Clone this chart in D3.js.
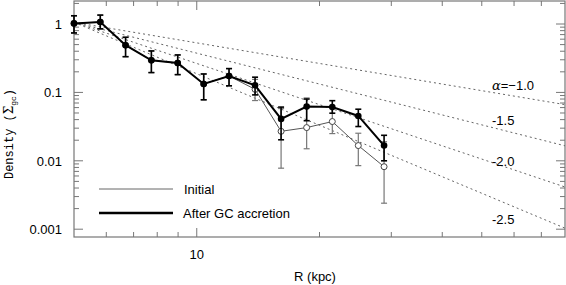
<!DOCTYPE html>
<meta charset="utf-8">
<style>
    body { margin: 0; background: #fff; }
    text { font-family: "Liberation Sans", Arial, sans-serif; font-size: 13px; fill: #000; }
    .frame { fill: none; stroke: #777; stroke-width: 1.2px; }
    .tick { stroke: #777; stroke-width: 1px; }
    .guide { fill: none; stroke: #666; stroke-width: 1px; stroke-dasharray: 2,3; }
</style>
<svg width="566" height="285"></svg>
<script src="https://d3js.org/d3.v7.min.js"></script>
<script>
    // radius (kpc)
    var radius = [5.0, 5.8, 6.69, 7.74, 8.98, 10.4, 12.0, 13.9, 16.1, 18.6, 21.5, 24.9, 28.8];

    // after GC accretion
    var after   = [1.02, 1.07, 0.49, 0.295, 0.269, 0.133, 0.174, 0.127, 0.041, 0.062, 0.061, 0.0453, 0.0167];
    var afterLo = [0.74, 0.85, 0.333, 0.195, 0.182, 0.078, 0.125, 0.092, 0.0203, 0.0386, 0.0497, 0.0317, 0.0100];
    var afterHi = [1.32, 1.35, 0.64, 0.404, 0.353, 0.186, 0.223, 0.167, 0.061, 0.080, 0.0757, 0.0568, 0.0236];

    // initial
    var initial = [1.02, 1.07, 0.49, 0.295, 0.269, 0.133, 0.174, 0.111, 0.027, 0.0306, 0.0375, 0.0167, 0.0082];
    var initLo  = [0.74, 0.85, 0.333, 0.195, 0.182, 0.078, 0.125, 0.076, 0.0078, 0.015, 0.025, 0.0085, 0.0024];
    var initHi  = [1.32, 1.35, 0.64, 0.404, 0.353, 0.186, 0.223, 0.155, 0.058, 0.083, 0.060, 0.0253, 0.019];

    // power-law guides
    var slopes = [-1.0, -1.5, -2.0, -2.5];
    var slopeLabels = ["-1.0", "-1.5", "-2.0", "-2.5"];
    var guideR0 = 5, guideS0 = 1.06;

    var yTicks = [1, 0.1, 0.01, 0.001];
    var yTickLabels = ["1", "0.1", "0.01", "0.001"];

    var pLeft = 74, pRight = 565, pTop = 1, pBottom = 237;

    var svg = d3.select("svg");

    var x = d3.scaleLog().domain([5, 80]).range([pLeft, pRight]);
    var y = d3.scaleLog().domain([0.000769, 2.17]).range([pBottom, pTop]);

    svg.append("clipPath").attr("id", "clip")
        .append("rect").attr("x", pLeft).attr("y", pTop)
        .attr("width", pRight - pLeft).attr("height", pBottom - pTop);

    // ticks
    var xMinor = [6, 7, 8, 9, 20, 30, 40, 50, 60, 70];
    var xMajor = [10];
    var yMinor = [];
    [0.001, 0.01, 0.1, 1].forEach(function (d) {
        for (var k = 2; k <= 9; k++) if (d * k < 2.17) yMinor.push(d * k);
    });

    var ticks = svg.append("g");
    function xTick(v, len) {
        ticks.append("line").attr("class", "tick")
            .attr("x1", x(v)).attr("x2", x(v)).attr("y1", pBottom).attr("y2", pBottom - len);
        ticks.append("line").attr("class", "tick")
            .attr("x1", x(v)).attr("x2", x(v)).attr("y1", pTop).attr("y2", pTop + len);
    }
    function yTick(v, len) {
        ticks.append("line").attr("class", "tick")
            .attr("x1", pLeft).attr("x2", pLeft + len).attr("y1", y(v)).attr("y2", y(v));
        ticks.append("line").attr("class", "tick")
            .attr("x1", pRight).attr("x2", pRight - len).attr("y1", y(v)).attr("y2", y(v));
    }
    xMinor.forEach(function (v) { xTick(v, 5); });
    xMajor.forEach(function (v) { xTick(v, 9); });
    yMinor.forEach(function (v) { yTick(v, 5); });
    yTicks.forEach(function (v) { yTick(v, 9); });

    svg.append("rect").attr("class", "frame")
        .attr("x", pLeft).attr("y", pTop).attr("width", pRight - pLeft).attr("height", pBottom - pTop);

    svg.selectAll(".ylab").data(yTicks).enter().append("text")
        .attr("x", 62).attr("y", function (d) { return y(d) + 5; })
        .attr("text-anchor", "end")
        .text(function (d, i) { return yTickLabels[i]; });

    svg.append("text").attr("x", x(10)).attr("y", 259).attr("text-anchor", "middle").text("10");
    svg.append("text").attr("x", 315).attr("y", 281).attr("text-anchor", "middle").text("R (kpc)");

    var ylab = svg.append("text")
        .attr("transform", "translate(13,134) rotate(-90)")
        .attr("text-anchor", "middle")
        .style("font-family", "'Liberation Mono', 'DejaVu Sans Mono', monospace")
        .style("font-size", "12px");
    ylab.append("tspan").text("Density (");
    ylab.append("tspan").style("font-family", "'DejaVu Serif', serif").text("Σ");
    ylab.append("tspan").attr("dy", 3).style("font-size", "8px").text("gc");
    ylab.append("tspan").attr("dy", -3).text(")");

    // guides
    var plot = svg.append("g").attr("clip-path", "url(#clip)");
    var guideR = [5, 80];
    slopes.forEach(function (a) {
        plot.append("path").attr("class", "guide")
            .attr("d", d3.line()
                .x(function (r) { return x(r); })
                .y(function (r) { return y(guideS0 * Math.pow(r / guideR0, a)); })(guideR));
    });

    var labelY = [90, 125, 166, 224];
    slopes.forEach(function (a, i) {
        var t = svg.append("text").attr("x", 492).attr("y", labelY[i]);
        if (i == 0) {
            t.append("tspan").style("font-family", "'DejaVu Serif', serif").style("font-style", "italic").text("α");
            t.append("tspan").text("=−1.0");
        } else {
            t.text(slopeLabels[i]);
        }
    });

    var pts = d3.range(radius.length);
    var line = function (vals) {
        return d3.line().x(function (i) { return x(radius[i]); }).y(function (i) { return y(vals[i]); })(pts);
    };

    function errorBars(g, lo, hi, color, width) {
        var cap = 3;
        pts.forEach(function (i) {
            var cx = x(radius[i]);
            g.append("line").attr("x1", cx).attr("x2", cx).attr("y1", y(lo[i])).attr("y2", y(hi[i]))
                .attr("stroke", color).attr("stroke-width", width);
            [lo[i], hi[i]].forEach(function (v) {
                g.append("line").attr("x1", cx - cap).attr("x2", cx + cap).attr("y1", y(v)).attr("y2", y(v))
                    .attr("stroke", color).attr("stroke-width", width);
            });
        });
    }

    // initial
    var gi = svg.append("g");
    errorBars(gi, initLo, initHi, "#777", 1.2);
    gi.append("path").attr("d", line(initial)).attr("fill", "none").attr("stroke", "#555").attr("stroke-width", 1);
    gi.selectAll("circle").data(pts).enter().append("circle")
        .attr("cx", function (i) { return x(radius[i]); })
        .attr("cy", function (i) { return y(initial[i]); })
        .attr("r", 3).attr("fill", "#fff").attr("stroke", "#444").attr("stroke-width", 1);

    // after GC accretion
    var ga = svg.append("g");
    errorBars(ga, afterLo, afterHi, "#000", 1.6);
    ga.append("path").attr("d", line(after)).attr("fill", "none").attr("stroke", "#000").attr("stroke-width", 2);
    ga.selectAll("circle").data(pts).enter().append("circle")
        .attr("cx", function (i) { return x(radius[i]); })
        .attr("cy", function (i) { return y(after[i]); })
        .attr("r", 3.3).attr("fill", "#000");

    // legend
    svg.append("line").attr("x1", 99).attr("x2", 173).attr("y1", 189).attr("y2", 189)
        .attr("stroke", "#666").attr("stroke-width", 1);
    svg.append("text").attr("x", 184).attr("y", 194).text("Initial");
    svg.append("line").attr("x1", 99).attr("x2", 173).attr("y1", 213).attr("y2", 213)
        .attr("stroke", "#000").attr("stroke-width", 2.5);
    svg.append("text").attr("x", 183).attr("y", 218).text("After GC accretion");
</script>
